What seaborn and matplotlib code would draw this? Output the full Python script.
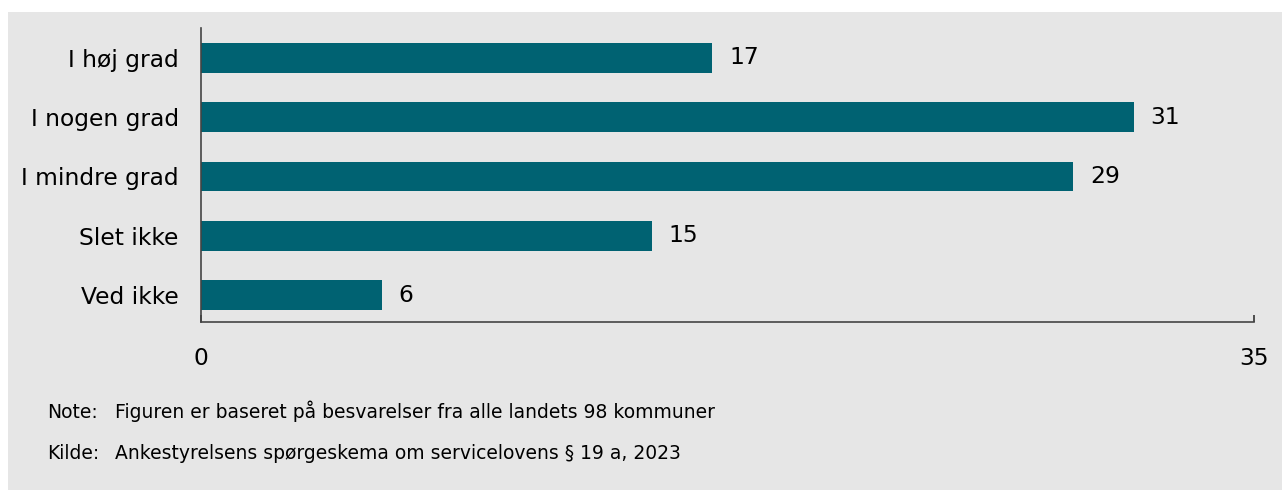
import matplotlib
matplotlib.use("Agg")
import matplotlib.pyplot as plt
import seaborn as sns
import pandas as pd
from matplotlib.patches import Rectangle

categories = ["I høj grad", "I nogen grad", "I mindre grad", "Slet ikke", "Ved ikke"]
values = [17, 31, 29, 15, 6]
x_ticks = [0, 35]
note_text = "Figuren er baseret på besvarelser fra alle landets 98 kommuner"
source_text = "Ankestyrelsens spørgeskema om servicelovens § 19 a, 2023"

bg = "#e6e6e6"
bar_color = "#006272"

sns.set_theme(style="white")
plt.rcParams["font.family"] = ["DejaVu Sans"]
plt.rcParams["text.color"] = "black"
plt.rcParams["xtick.color"] = "black"
plt.rcParams["ytick.color"] = "black"

df = pd.DataFrame({"kategori": categories, "andel": values})

fig = plt.figure(figsize=(12.82, 4.96), dpi=100, facecolor="white")
fig.patches.append(Rectangle((8 / 1282, 6 / 496), 1 - 8 / 1282, 478 / 496,
                             transform=fig.transFigure, facecolor=bg,
                             edgecolor="none", zorder=-10))
ax = fig.add_axes([201 / 1282, 1 - 322 / 496, (1254 - 201) / 1282, (322 - 28) / 496])
ax.set_facecolor(bg)

sns.barplot(data=df, x="andel", y="kategori", color=bar_color, width=0.5,
            saturation=1, linewidth=0, edgecolor="none", ax=ax)

for i, v in enumerate(values):
    ax.text(v + 0.55, i, str(v), va="center", ha="left", fontsize=16.8, color="black")

ax.set_xlim(0, 35)
ax.set_ylim(4.45, -0.5)
ax.set_xticks(x_ticks)
ax.set_xlabel("")
ax.set_ylabel("")
ax.tick_params(axis="x", bottom=True, direction="in", length=5, width=1.2,
               color="#333333", labelsize=16.8, pad=18)
ax.tick_params(axis="y", left=False, length=0, labelsize=16.8, pad=16)
for side in ["top", "right"]:
    ax.spines[side].set_visible(False)
for side in ["left", "bottom"]:
    ax.spines[side].set_color("#444444")
    ax.spines[side].set_linewidth(1.2)

y1 = 1 - 418 / 496
y2 = 1 - 459 / 496
fig.text(47 / 1282, y1, "Note:", fontsize=13.5, va="baseline", ha="left")
fig.text(115 / 1282, y1, note_text, fontsize=13.5, va="baseline", ha="left")
fig.text(47 / 1282, y2, "Kilde:", fontsize=13.5, va="baseline", ha="left")
fig.text(115 / 1282, y2, source_text, fontsize=13.5, va="baseline", ha="left")

fig.savefig("out.png", dpi=100, facecolor=fig.get_facecolor())
